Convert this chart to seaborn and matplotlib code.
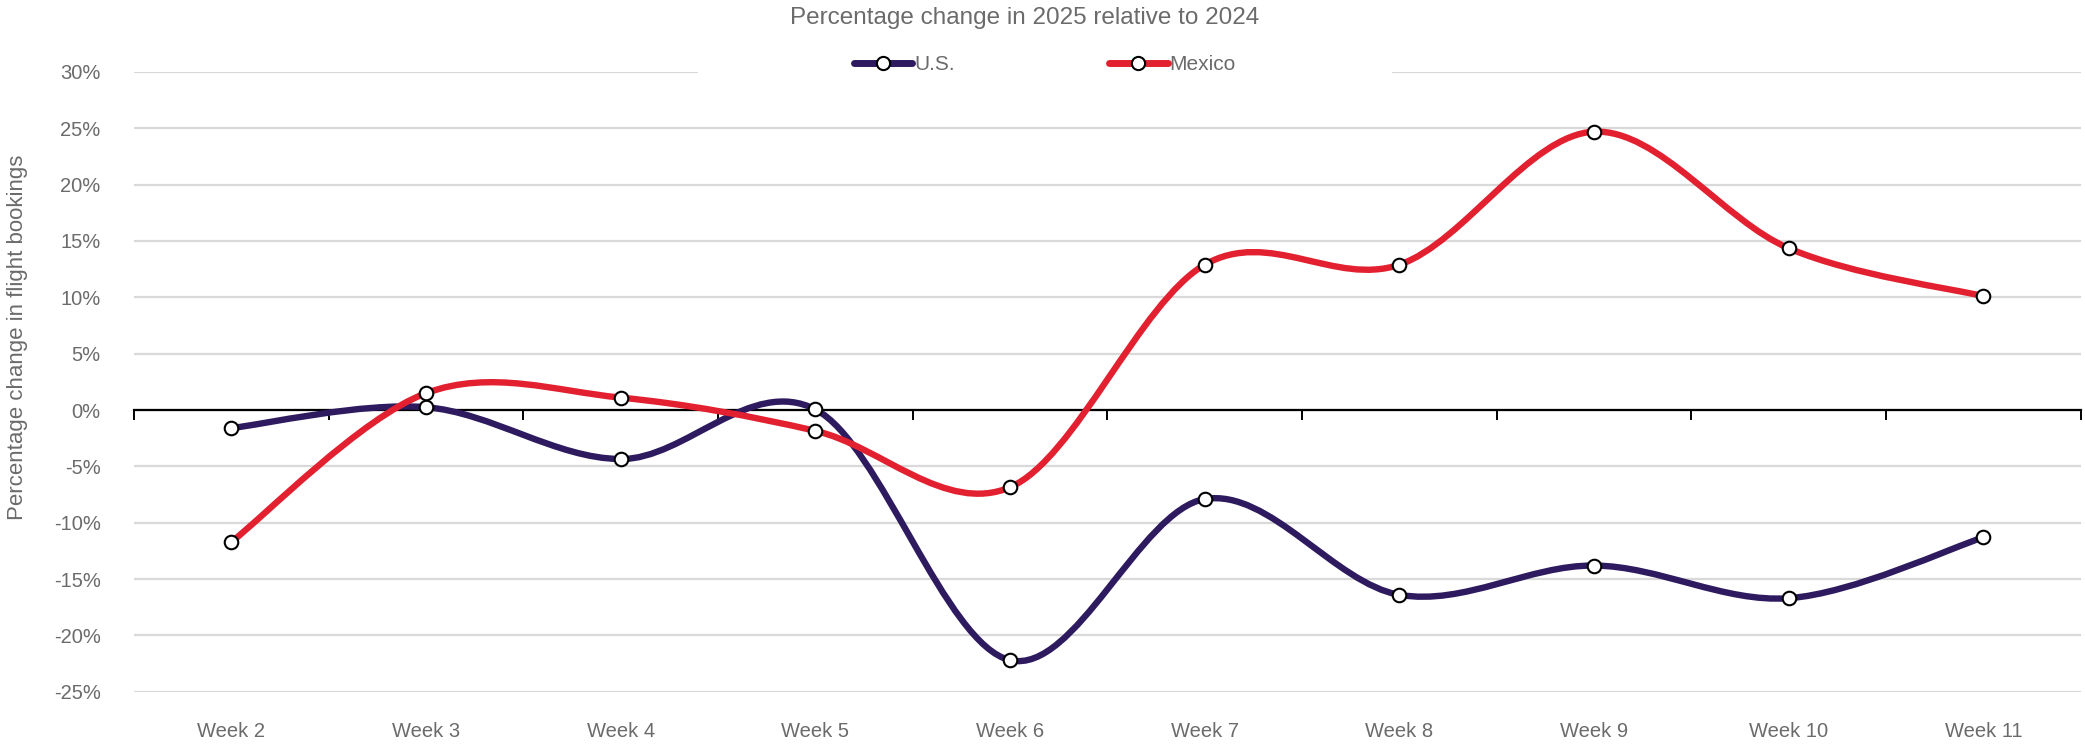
import numpy as np
import pandas as pd
import matplotlib
matplotlib.use("Agg")
import matplotlib.pyplot as plt
from matplotlib.path import Path
from matplotlib.patches import PathPatch
from matplotlib.lines import Line2D
from matplotlib.ticker import FuncFormatter
import seaborn as sns

# data (percent change, 2025 vs 2024)
weeks = ["Week 2", "Week 3", "Week 4", "Week 5", "Week 6",
         "Week 7", "Week 8", "Week 9", "Week 10", "Week 11"]
us = [-1.6, 0.25, -4.35, 0.05, -22.2, -7.9, -16.4, -13.8, -16.7, -11.3]
mexico = [-11.7, 1.5, 1.1, -1.85, -6.85, 12.9, 12.9, 24.7, 14.35, 10.1]
series_names = ["U.S.", "Mexico"]
series_colors = ["#2E1A5E", "#E2202F"]
yticks = list(range(-25, 35, 5))

TEXT = "#6b6b6b"

sns.set_theme(style="white")
plt.rcParams["font.family"] = ["Liberation Sans", "DejaVu Sans"]

df = pd.DataFrame({
    "week": weeks * 2,
    "series": [series_names[0]] * len(weeks) + [series_names[1]] * len(weeks),
    "value": us + mexico,
})


def smooth_path(values):
    """Excel-like smoothed line: Catmull-Rom segments as cubic Beziers."""
    pts = np.column_stack([np.arange(len(values)), values]).astype(float)
    verts = [pts[0]]
    codes = [Path.MOVETO]
    n = len(pts)
    for k in range(n - 1):
        p0 = pts[k - 1] if k > 0 else pts[k]
        p1 = pts[k]
        p2 = pts[k + 1]
        p3 = pts[k + 2] if k + 2 < n else pts[k + 1]
        verts += [p1 + (p2 - p0) / 6, p2 - (p3 - p1) / 6, p2]
        codes += [Path.CURVE4] * 3
    return Path(verts, codes)


def wide_box(x0, y0, width, height, mutation_size):
    # white legend box that is much wider than its content (hides the gridline)
    padx = 7.1 * mutation_size
    pady = 0.3 * mutation_size
    x1, y1 = x0 + width + padx, y0 + height + pady
    x0, y0 = x0 - padx, y0 - pady
    return Path([(x0, y0), (x1, y0), (x1, y1), (x0, y1), (x0, y0)], closed=True)


fig, ax = plt.subplots(figsize=(20.85, 7.45), dpi=100)
fig.subplots_adjust(left=0.0643, right=0.998, bottom=0.0715, top=0.9034)

for name, color in zip(series_names, series_colors):
    vals = df.loc[df["series"] == name, "value"].to_numpy()
    ax.add_patch(PathPatch(smooth_path(vals), facecolor="none", edgecolor=color,
                           lw=4.6, capstyle="round", joinstyle="round", zorder=3))

sns.scatterplot(data=df, x="week", y="value", color="white", edgecolor="black",
                linewidth=1.5, s=95, zorder=4, ax=ax, legend=False)

ax.set_xlim(-0.5, len(weeks) - 0.5)
ax.set_ylim(-25, 30)
ax.set_yticks(yticks)
ax.yaxis.set_major_formatter(FuncFormatter(lambda v, p: f"{int(round(v))}%"))
ax.grid(axis="y", color="#d9d9d9", lw=1.6)
ax.set_axisbelow(True)
for side in ["left", "right", "top", "bottom"]:
    ax.spines[side].set_visible(False)
ax.tick_params(axis="y", length=0, pad=24, labelsize=14.5, labelcolor=TEXT)
ax.tick_params(axis="x", length=0, pad=22, labelsize=14.5, labelcolor=TEXT)
ax.set_xlabel("")
ax.set_ylabel("Percentage change in flight bookings", fontsize=16, color=TEXT)
ax.yaxis.set_label_coords(-0.0545, 0.572)

# horizontal axis line at 0 with tick marks between categories
zero_axis = ax.secondary_xaxis(0, transform=ax.transData)
zero_axis.set_zorder(1)
zero_axis.set_xticks(np.arange(-0.5, len(weeks), 1.0))
zero_axis.set_xticklabels([])
zero_axis.tick_params(axis="x", direction="out", length=7, width=1.4, color="black")
zero_axis.spines["bottom"].set_color("black")
zero_axis.spines["bottom"].set_linewidth(1.6)

fig.suptitle("Percentage change in 2025 relative to 2024", x=1025 / 2085, y=1 - 18 / 745,
             va="center", fontsize=17.5, color=TEXT)

handles = [Line2D([], [], color=c, lw=5, solid_capstyle="round", marker="o",
                  markerfacecolor="white", markeredgecolor="black", markeredgewidth=1.5,
                  markersize=9.5) for c in series_colors]
leg = ax.legend(handles, series_names, loc="center", ncol=2,
                bbox_to_anchor=(1045 / 2085, 1 - 65 / 745), bbox_transform=fig.transFigure,
                fontsize=15, handlelength=2.8, handletextpad=0.1, columnspacing=7.4,
                frameon=True, facecolor="white", edgecolor="none", framealpha=1)
for t in leg.get_texts():
    t.set_color(TEXT)
leg.get_frame().set_boxstyle(wide_box)

fig.savefig("out.png", dpi=100)
